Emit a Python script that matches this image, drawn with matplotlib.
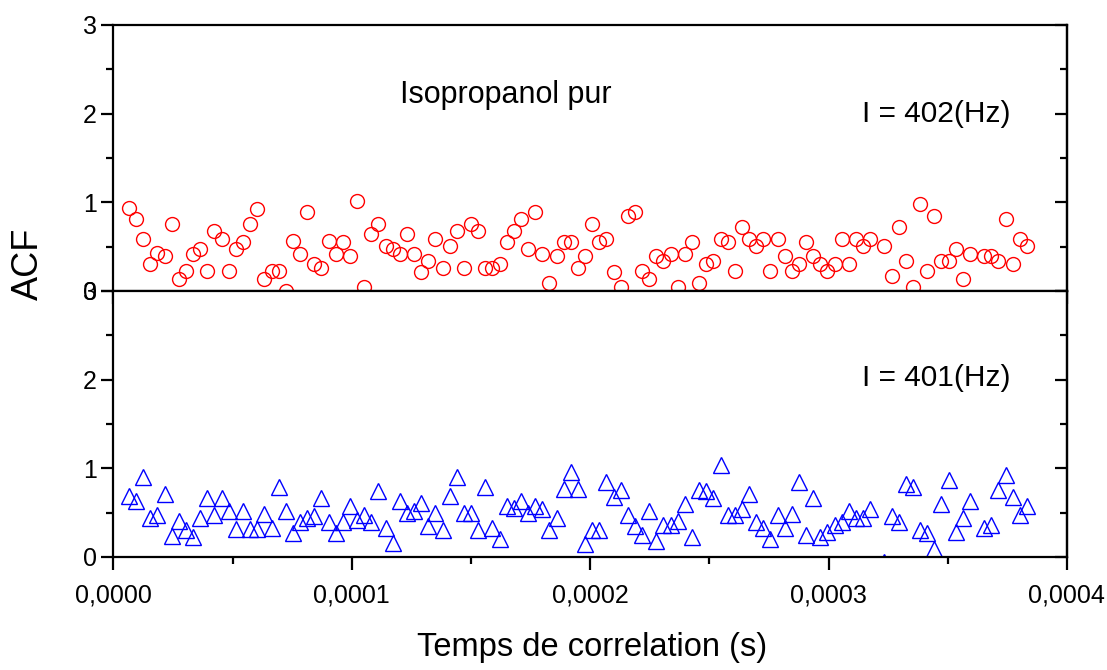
import numpy as np
import matplotlib
matplotlib.use("Agg")
import matplotlib.pyplot as plt
from matplotlib.ticker import MultipleLocator, FuncFormatter

plt.rcParams['font.family'] = ['Liberation Sans', 'DejaVu Sans']

# lag grid of the correlation (s): first lag and step
LAG_START = 6.5e-6
LAG_STEP = 2.99e-6

# ACF, pure isopropanol, I = 402 Hz (red circles), nan = no point shown
acf_402 = [0.94, 0.81, 0.59, 0.30, 0.43, 0.39, 0.76, 0.13, 0.22, 0.42,
           0.47, 0.22, 0.68, 0.59, 0.22, 0.47, 0.55, 0.76, 0.93, 0.135,
           0.22, 0.22, 0.0, 0.56, 0.42, 0.89, 0.30, 0.26, 0.56, 0.42,
           0.55, 0.39, 1.02, 0.05, 0.64, 0.76, 0.51, 0.47, 0.42, 0.64,
           0.42, 0.21, 0.34, 0.59, 0.26, 0.51, 0.68, 0.26, 0.76, 0.68,
           0.26, 0.26, 0.30, 0.55, 0.68, 0.81, 0.47, 0.89, 0.42, 0.09,
           0.39, 0.55, 0.55, 0.26, 0.39, 0.76, 0.55, 0.59, 0.21, 0.05,
           0.85, 0.89, 0.22, 0.13, 0.39, 0.34, 0.42, 0.05, 0.42, 0.55,
           0.09, 0.30, 0.34, 0.59, 0.55, 0.22, 0.72, 0.59, 0.51, 0.59,
           0.22, 0.59, 0.39, 0.22, 0.30, 0.55, 0.39, 0.30, 0.22, 0.30,
           0.59, 0.30, 0.59, 0.51, 0.59, np.nan, 0.51, 0.17, 0.72, 0.34,
           0.05, 0.98, 0.22, 0.85, 0.34, 0.34, 0.47, 0.135, 0.42, np.nan,
           0.39, 0.39, 0.34, 0.81, 0.30, 0.59, 0.51]

# ACF, I = 401 Hz (blue triangles)
acf_401 = [0.69, 0.63, 0.90, 0.44, 0.47, 0.71, 0.24, 0.41, 0.30, 0.22,
           0.44, 0.66, 0.47, 0.66, 0.52, 0.31, 0.52, 0.31, 0.31, 0.49,
           0.33, 0.79, 0.52, 0.27, 0.39, 0.44, 0.46, 0.66, 0.39, 0.27,
           0.39, 0.57, 0.42, 0.47, 0.39, 0.74, 0.33, 0.16, 0.63, 0.50,
           0.52, 0.61, 0.35, 0.50, 0.30, 0.69, 0.90, 0.50, 0.50, 0.30,
           0.79, 0.33, 0.20, 0.57, 0.55, 0.63, 0.50, 0.57, 0.54, 0.30,
           0.44, 0.77, 0.96, 0.77, 0.15, 0.30, 0.30, 0.85, 0.68, 0.76,
           0.47, 0.35, 0.25, 0.52, 0.18, 0.36, 0.36, 0.41, 0.60, 0.22,
           0.76, 0.74, 0.66, 1.04, 0.47, 0.47, 0.54, 0.71, 0.39, 0.33,
           0.20, 0.47, 0.33, 0.49, 0.85, 0.25, 0.66, 0.22, 0.28, 0.36,
           0.39, 0.52, 0.44, 0.44, 0.54, np.nan, -0.06, 0.46, 0.39, 0.82,
           0.79, 0.30, 0.27, 0.09, 0.60, 0.87, 0.28, 0.44, 0.63, np.nan,
           0.33, 0.36, 0.76, 0.93, 0.68, 0.47, 0.57]

lag = LAG_START + LAG_STEP * np.arange(len(acf_402))


def comma_fmt(v, pos):
    return "{:.4f}".format(v).replace(".", ",")


def style_axis(ax, show_xlabels):
    ax.set_xlim(0, 0.0004)
    ax.set_ylim(0, 3)
    ax.xaxis.set_major_locator(MultipleLocator(0.0001))
    ax.xaxis.set_minor_locator(MultipleLocator(0.00005))
    ax.yaxis.set_major_locator(MultipleLocator(1))
    ax.yaxis.set_minor_locator(MultipleLocator(0.5))
    ax.tick_params(which='both', direction='out', width=1.6,
                   top=False, right=False)
    ax.tick_params(which='major', length=9)
    ax.tick_params(which='minor', length=5)
    ax.tick_params(axis='y', labelsize=18, pad=3)
    for s in ax.spines.values():
        s.set_linewidth(1.6)
    if show_xlabels:
        ax.xaxis.set_major_formatter(FuncFormatter(comma_fmt))
        ax.tick_params(axis='x', labelsize=18, pad=10)
    else:
        ax.tick_params(axis='x', labelbottom=False)
    right = ax.secondary_yaxis('right')
    right.yaxis.set_major_locator(MultipleLocator(1))
    right.yaxis.set_minor_locator(MultipleLocator(0.5))
    right.tick_params(which='both', direction='in', width=1.6, labelright=False)
    right.tick_params(which='major', length=9)
    right.tick_params(which='minor', length=5)
    right.spines['right'].set_linewidth(1.6)


fig = plt.figure(figsize=(11.07, 6.70), dpi=100)
ax1 = fig.add_axes([0.1025, 0.5657, 0.8613, 0.397])
ax2 = fig.add_axes([0.1025, 0.1687, 0.8613, 0.397])

ax1.plot(lag, acf_402, 'o', mfc='none', mec='red', ms=10, mew=1.0)
ax2.plot(lag, acf_401, '^', mfc='none', mec='blue', ms=11.5, mew=1.0)

style_axis(ax1, False)
style_axis(ax2, True)

ax1.text(1.2e-4, 2.21, "Isopropanol pur", fontsize=22, va='center')
ax1.text(3.14e-4, 2.0, "I = 402(Hz)", fontsize=21.5, va='center')
ax2.text(3.14e-4, 2.02, "I = 401(Hz)", fontsize=21.5, va='center')

fig.text(0.026, 0.606, "ACF", rotation=90, fontsize=26, ha='center', va='center')
fig.text(0.535, 0.033, "Temps de correlation (s)", fontsize=23.5,
         ha='center', va='center')

fig.savefig("out.png", dpi=100)
